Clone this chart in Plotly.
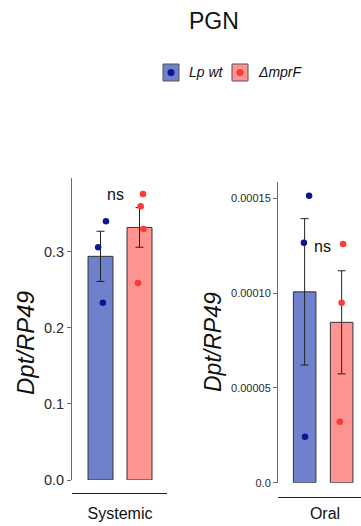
import plotly.graph_objects as go

# ---- data -------------------------------------------------------------
groups = ["Lp wt", "ΔmprF"]

# Systemic infection: Dpt/RP49
systemic_mean = [0.294, 0.332]
systemic_sem = [0.033, 0.026]
systemic_wt_pts = [0.340, 0.306, 0.233]
systemic_mut_pts = [0.376, 0.360, 0.330, 0.259]

# Oral infection: Dpt/RP49
oral_mean = [0.0001007, 0.0000846]
oral_sem = [0.0000386, 0.0000272]
oral_wt_pts = [0.0001514, 0.0001266, 0.0000243]
oral_mut_pts = [0.0001259, 0.0000949, 0.0000322]

systemic_ticks = [0.0, 0.1, 0.2, 0.3]
systemic_ticktext = ["0.0", "0.1", "0.2", "0.3"]
oral_ticks = [0.0, 0.00005, 0.00010, 0.00015]
oral_ticktext = ["0.0", "0.00005", "0.00010", "0.00015"]

# small horizontal jitter for the dots (in bar-slot units)
systemic_wt_jit = [0.14, -0.06, 0.06]
systemic_mut_jit = [0.09, 0.03, 0.10, -0.04]
oral_wt_jit = [0.12, -0.02, 0.01]
oral_mut_jit = [0.04, 0.0, -0.05]

# ---- styling ----------------------------------------------------------
W, H = 361, 526
BAR_COLORS = ["#6f81cc", "#ff9490"]
DOT_COLORS = ["#0b1596", "#ff3838"]
AXIS_COL = "#6a6a6a"
TXT_COL = "#2a2a2a"
SANS = "Liberation Sans, Arial, sans-serif"


def py(px):
    """pixel row -> paper y"""
    return 1 - px / H


def pxx(px):
    """pixel column -> paper x"""
    return px / W


fig = go.Figure()


def add_panel(xa, ya, means, sems, pts_list, jit_list, bar_w):
    xs = list(range(len(means)))
    for i in xs:
        fig.add_trace(go.Bar(
            x=[i], y=[means[i]], width=bar_w,
            marker=dict(color=BAR_COLORS[i], line=dict(color="#333333", width=1)),
            error_y=dict(type="data", array=[sems[i]], visible=True,
                         color="#222222", thickness=1, width=4),
            xaxis=xa, yaxis=ya, showlegend=False, hoverinfo="skip",
        ))
    for i, (pts, jit) in enumerate(zip(pts_list, jit_list)):
        fig.add_trace(go.Scatter(
            x=[i + j for j in jit], y=pts, mode="markers",
            marker=dict(color=DOT_COLORS[i], size=6.5, line=dict(width=0)),
            xaxis=xa, yaxis=ya, showlegend=False, hoverinfo="skip",
        ))


add_panel("x", "y", systemic_mean, systemic_sem,
          [systemic_wt_pts, systemic_mut_pts],
          [systemic_wt_jit, systemic_mut_jit], 0.64)
add_panel("x2", "y2", oral_mean, oral_sem,
          [oral_wt_pts, oral_mut_pts],
          [oral_wt_jit, oral_mut_jit], 0.61)

yaxis_common = dict(
    showgrid=False, zeroline=False, showline=True, linecolor=AXIS_COL,
    linewidth=1, ticks="outside", ticklen=4, tickcolor=AXIS_COL, tickwidth=1,
    automargin=False,
)
xaxis_common = dict(
    showgrid=False, zeroline=False, showline=True, linecolor="#222222",
    linewidth=1, ticks="outside", tickcolor="rgba(0,0,0,0)",
    tickfont=dict(family=SANS, size=16, color="#111111"), anchor="free",
    automargin=False,
)

fig.update_layout(
    template="none",
    width=W, height=H, margin=dict(l=0, r=0, t=0, b=0, pad=0),
    paper_bgcolor="white", plot_bgcolor="white",
    barmode="overlay", showlegend=False,
    xaxis=dict(domain=[pxx(72), pxx(167)], range=[-0.731, 1.705],
               tickvals=[0.5], ticktext=["Systemic"], position=py(493),
               ticklen=6, **xaxis_common),
    yaxis=dict(domain=[py(480), py(178)], range=[0, 0.397],
               tickvals=systemic_ticks, ticktext=systemic_ticktext,
               tickfont=dict(family=SANS, size=14.5, color=TXT_COL),
               anchor="x", **yaxis_common),
    xaxis2=dict(domain=[pxx(278), 1.0], range=[-0.72, 1.523],
                tickvals=[0.55], ticktext=["Oral"], position=py(497),
                ticklen=2, **xaxis_common),
    yaxis2=dict(domain=[py(482.7), py(181.7)], range=[0, 0.0001588],
                tickvals=oral_ticks, ticktext=oral_ticktext,
                tickfont=dict(family=SANS, size=11, color=TXT_COL),
                anchor="x2", **yaxis_common),
)

annotations = [
    dict(text="PGN", x=pxx(214), y=py(21),
         font=dict(family=SANS, size=23, color="#111111")),
    dict(text="<i>Dpt/RP49</i>", x=pxx(25), y=py(343), textangle=-90,
         font=dict(family=SANS, size=24, color="#111111")),
    dict(text="<i>Dpt/RP49</i>", x=pxx(213), y=py(342), textangle=-90,
         font=dict(family=SANS, size=23, color="#111111")),
]
for a in annotations:
    a.update(xref="paper", yref="paper", xanchor="center", yanchor="middle",
             showarrow=False)

annotations += [
    dict(text="ns", x=0.385, y=0.375, xref="x", yref="y", showarrow=False,
         xanchor="center", yanchor="middle",
         font=dict(family=SANS, size=16, color="#111111")),
    dict(text="ns", x=0.49, y=0.0001248, xref="x2", yref="y2", showarrow=False,
         xanchor="center", yanchor="middle",
         font=dict(family=SANS, size=16, color="#111111")),
]

# legend: swatch boxes with a dot inside, followed by italic labels
shapes = []
legend_items = [(163, "Lp wt"), (232, "ΔmprF")]
for i, (x0, label) in enumerate(legend_items):
    shapes.append(dict(type="rect", xref="paper", yref="paper",
                       x0=pxx(x0), x1=pxx(x0 + 16), y0=py(81), y1=py(64),
                       fillcolor=BAR_COLORS[i], line=dict(color="#555555", width=1)))
    cx, cy = x0 + 8, 72.5
    shapes.append(dict(type="circle", xref="paper", yref="paper",
                       x0=pxx(cx - 3.5), x1=pxx(cx + 3.5), y0=py(cy + 3.5), y1=py(cy - 3.5),
                       fillcolor=DOT_COLORS[i], line=dict(width=0)))
    annotations.append(dict(text=f"<i>{label}</i>", x=pxx(x0 + 24), y=py(72.5),
                            xref="paper", yref="paper", xanchor="left",
                            yanchor="middle", showarrow=False,
                            font=dict(family=SANS, size=14, color="#111111")))

fig.update_layout(annotations=annotations, shapes=shapes)

fig.write_html("out.html")
